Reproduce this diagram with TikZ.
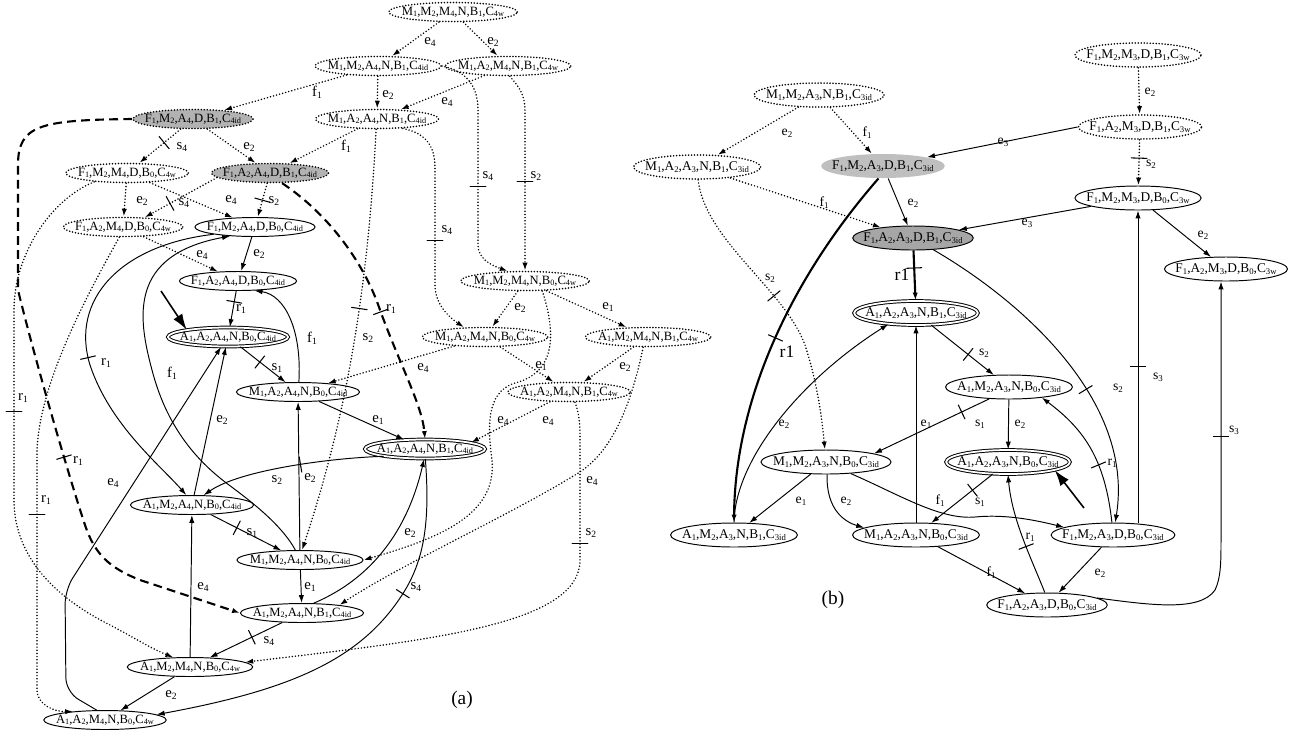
\documentclass[tikz,border=0pt]{standalone}
\usepackage{fontspec}
\setmainfont{Liberation Serif}
\usetikzlibrary{calc}
\usetikzlibrary{arrows.meta}
\usetikzlibrary{shapes.geometric}
\usetikzlibrary{decorations.markings}
\newcommand\sbs[1]{\raisebox{-0.3ex}{\scalebox{0.65}{#1}}}
\tikzset{
	>={Latex[length=4.5pt,width=3pt]},
	sta/.style={
		ellipse,
		draw, line width=0.55pt,
		inner xsep=-3.2pt, inner ysep=0pt,
		minimum height=0.38cm,
		font=\fontsize{7.2}{8}\selectfont},
	stb/.style={
		ellipse,
		draw, line width=0.55pt,
		inner xsep=-4pt, inner ysep=0pt,
		minimum height=0.48cm,
		font=\fontsize{7.6}{9}\selectfont},
	ghost/.style={draw, line cap=round, dash pattern=on 0pt off 1.7pt, line width=1pt},
	fault/.style={fill=gray!60},
	goal/.style={double, double distance=1pt},
	trans/.style={->, line width=0.55pt},
	transdot/.style={->, line width=0.95pt, line cap=round, dash pattern=on 0pt off 1.8pt},
	transdash/.style={->, line width=1.2pt, dash pattern=on 5pt off 3pt},
	transthick/.style={->, line width=1.2pt},
	initarr/.style={-{Latex[length=9pt,width=6pt]}, line width=0.9pt},
	lab/.style={font=\fontsize{8.4}{9}\selectfont, inner sep=0pt},
	labb/.style={font=\fontsize{7.8}{9}\selectfont, inner sep=0pt},
	labbig/.style={font=\fontsize{10}{11}\selectfont, inner sep=0pt},
	notch/.style={postaction={decorate,decoration={markings,
		mark=at position #1 with {\draw[solid,-,line width=0.6pt] (0,-4.5pt) -- (0,4.5pt);}}}},
}
\begin{document}
\begin{tikzpicture}[x=0.02cm, y=-0.02cm]
	\useasboundingbox (0,0) rectangle (1301,731);

	% (a) states
	\node[sta,ghost] (a1) at (453,12) {M\sbs1,M\sbs2,M\sbs4,N,B\sbs1,C\sbs{4w}};
	\node[sta,ghost] (a2) at (378,66) {M\sbs1,M\sbs2,A\sbs4,N,B\sbs1,C\sbs{4id}};
	\node[sta,ghost] (a3) at (508,66) {M\sbs1,A\sbs2,M\sbs4,N,B\sbs1,C\sbs{4w}};
	\node[sta,ghost,fault] (a4) at (193,119) {F\sbs1,M\sbs2,A\sbs4,D,B\sbs1,C\sbs{4id}};
	\node[sta,ghost] (a5) at (377,119) {M\sbs1,A\sbs2,A\sbs4,N,B\sbs1,C\sbs{4id}};
	\node[sta,ghost] (a6) at (127,173) {F\sbs1,M\sbs2,M\sbs4,D,B\sbs0,C\sbs{4w}};
	\node[sta,ghost,fault] (a7) at (270,173) {F\sbs1,A\sbs2,A\sbs4,D,B\sbs1,C\sbs{4id}};
	\node[sta,ghost] (a8) at (123,227) {F\sbs1,A\sbs2,M\sbs4,D,B\sbs0,C\sbs{4w}};
	\node[sta] (a9) at (255,227) {F\sbs1,M\sbs2,A\sbs4,D,B\sbs0,C\sbs{4id}};
	\node[sta] (a10) at (238,281) {F\sbs1,A\sbs2,A\sbs4,D,B\sbs0,C\sbs{4id}};
	\node[sta,goal] (a11) at (228,337) {A\sbs1,A\sbs2,A\sbs4,N,B\sbs0,C\sbs{4id}};
	\node[sta] (a12) at (298,392) {M\sbs1,A\sbs2,A\sbs4,N,B\sbs0,C\sbs{4id}};
	\node[sta,ghost] (a13) at (525,281) {M\sbs1,M\sbs2,M\sbs4,N,B\sbs0,C\sbs{4w}};
	\node[sta,ghost] (a14) at (485,337) {M\sbs1,A\sbs2,M\sbs4,N,B\sbs0,C\sbs{4w}};
	\node[sta,ghost] (a15) at (648,337) {A\sbs1,M\sbs2,M\sbs4,N,B\sbs1,C\sbs{4w}};
	\node[sta,ghost] (a16) at (569,392) {A\sbs1,A\sbs2,M\sbs4,N,B\sbs1,C\sbs{4w}};
	\node[sta,goal] (a17) at (425,449) {A\sbs1,A\sbs2,A\sbs4,N,B\sbs1,C\sbs{4id}};
	\node[sta] (a18) at (192,505) {A\sbs1,M\sbs2,A\sbs4,N,B\sbs0,C\sbs{4id}};
	\node[sta] (a19) at (300,560) {M\sbs1,M\sbs2,A\sbs4,N,B\sbs0,C\sbs{4id}};
	\node[sta] (a20) at (302,613) {A\sbs1,M\sbs2,A\sbs4,N,B\sbs1,C\sbs{4id}};
	\node[sta] (a21) at (190,667) {A\sbs1,M\sbs2,M\sbs4,N,B\sbs0,C\sbs{4w}};
	\node[sta] (a22) at (105,720) {A\sbs1,A\sbs2,M\sbs4,N,B\sbs0,C\sbs{4w}};
	\node[font=\fontsize{11}{12}\selectfont] (capa) at (462,700) {(a)};

	% (a) transitions
	\draw[transdot] (a1) -- (a2) node[lab] at (430,42) {e\sbs4};
	\draw[transdot] (a1) -- (a3) node[lab] at (493,42) {e\sbs2};
	\draw[transdot] (a2) -- (a4) node[lab] at (317,92) {f\sbs1};
	\draw[transdot] (a2) -- (a5) node[lab] at (388,95) {e\sbs2};
	\draw[transdot] (a3) -- (a5) node[lab] at (447,102) {e\sbs4};
	\draw[transdot,notch=0.4] (a4) -- (a6) node[lab] at (182,147) {s\sbs4};
	\draw[transdot] (a4) -- (a7) node[lab] at (249,147) {e\sbs2};
	\draw[transdot] (a5) -- (a7) node[lab] at (346,146) {f\sbs1};
	\draw[transdot] (a6) -- (a8) node[lab] at (142,201) {e\sbs2};
	\draw[transdot,notch=0.65] (a7.185) -- (a8.24) node[lab] at (184,203) {s\sbs4};
	\draw[transdot] (a6) -- (a9) node[lab] at (231,200) {e\sbs4};
	\draw[transdot,notch=0.5] (a7) -- (a9) node[lab] at (274,201) {s\sbs2};
	\draw[transdot] (a8) -- (a10) node[lab] at (202,255) {e\sbs4};
	\draw[transdot,notch=0.58] (a2.east) .. controls (462,70) and (478,82) .. (478,110) -- (478,245)
		.. controls (478,258) and (490,265) .. (a13.150) node[lab] at (488,176) {s\sbs4};
	\draw[transdot,notch=0.55] (a3.-80) .. controls (520,88) and (525,95) .. (525,112) -- (a13.north)
		node[lab] at (536,176) {s\sbs2};
	\draw[transdot,notch=0.57] (a5.-20) .. controls (425,133) and (435,145) .. (435,168) -- (435,285)
		.. controls (435,305) and (450,318) .. (a14.155) node[lab] at (447,230) {s\sbs4};
	\draw[transdot,notch=0.42] (a5.265) .. controls (366,330) and (335,450) .. (a19.78)
		node[lab] at (368,338) {s\sbs2};
	\draw[transdot] (a13) -- (a14) node[lab] at (520,308) {e\sbs2};
	\draw[transdot] (a13) -- (a15) node[lab] at (608,307) {e\sbs1};
	\draw[transdot] (a14) -- (a16) node[lab] at (541,366) {e\sbs1};
	\draw[transdot] (a15) -- (a16) node[lab] at (625,367) {e\sbs2};
	\draw[transdot] (a16) -- (a17.8) node[lab] at (548,421) {e\sbs4};
	\draw[transdot] (a14) -- (a12) node[lab] at (423,368) {e\sbs4};
	\draw[transdot] (a13.-30) .. controls (555,330) and (558,372) .. (515,383)
		.. controls (485,392) and (488,430) .. (492,460)
		.. controls (497,515) and (440,538) .. (a19.east) node[lab] at (503,421) {e\sbs4};
	\draw[transdot] (a15.-115) .. controls (630,410) and (610,455) .. (575,475)
		.. controls (510,515) and (400,565) .. (a20.12) node[lab] at (592,481) {e\sbs4};
	\draw[transdot,notch=0.27] (a16.-60) .. controls (578,410) and (580,420) .. (580,435) -- (580,560)
		.. controls (580,625) and (430,640) .. (a21.5) node[lab] at (591,533) {s\sbs2};
	\draw[transdot,notch=0.445] (a6.195) .. controls (50,200) and (14,255) .. (14,310) -- (14,500)
		.. controls (14,560) and (60,600) .. (110,625)
		.. controls (135,638) and (150,648) .. (a21.150) node[lab] at (23,398) {r\sbs1};
	\draw[transdot,notch=0.57] (a8.-110) .. controls (90,290) and (40,380) .. (37,450) -- (37,690)
		.. controls (37,705) and (55,712) .. (a22.165) node[lab] at (46,500) {r\sbs1};
	\draw[transdash,notch=0.63] (a4.west) .. controls (40,120) and (18,125) .. (18,165) -- (18,290)
		.. controls (35,360) and (70,480) .. (85,525)
		.. controls (95,555) and (110,568) .. (140,580) -- (a20.west) node[lab] at (78,461) {r\sbs1};
	\draw[transdash,notch=0.55] (a7.-40) .. controls (330,215) and (365,265) .. (380,310)
		.. controls (400,365) and (422,405) .. (a17.north) node[lab] at (391,309) {r\sbs1};
	\draw[trans] (a9) -- (a10) node[lab] at (259,254) {e\sbs2};
	\draw[trans,notch=0.3] (a10) -- (a11) node[lab] at (241,309) {r\sbs1};
	\draw[trans,notch=0.43] (a11) -- (a12) node[lab] at (277,368) {s\sbs1};
	\draw[trans] (a12.85) .. controls (302,330) and (285,295) .. (a10.-30) node[lab] at (312,338) {f\sbs1};
	\draw[trans] (a12) -- (a17) node[lab] at (378,420) {e\sbs1};
	\draw[trans,notch=0.45] (a17.190) .. controls (330,458) and (240,470) .. (a18.40)
		node[lab] at (277,480) {s\sbs2};
	\draw[trans,notch=0.37] (a18) -- (a19) node[lab] at (252,533) {s\sbs1};
	\draw[trans] (a19) -- (a20) node[lab] at (310,587) {e\sbs1};
	\draw[trans,notch=0.42] (a20) -- (a21) node[lab] at (269,641) {s\sbs4};
	\draw[trans] (a21) -- (a22) node[lab] at (171,695) {e\sbs2};
	\draw[trans] (a21) -- (a18) node[lab] at (203,587) {e\sbs4};
	\draw[trans] (a19) -- (a12) node[lab] at (310,478) {e\sbs2};
	\draw[trans] (a18) -- (a11) node[lab] at (222,420) {e\sbs2};
	\draw[trans] (a20.40) .. controls (380,575) and (410,520) .. (a17.265) node[lab] at (410,533) {e\sbs2};
	\draw[trans,notch=0.33] (a17.-88) .. controls (430,520) and (425,560) .. (402,595)
		.. controls (360,660) and (290,690) .. (a22.6) node[lab] at (416,587) {s\sbs4};
	\draw[trans,rounded corners=8pt] (a22.130) -- (66,692) -- (65,590) -- (a11.-125)
		node[lab] at (113,483) {e\sbs4};
	\draw[trans,notch=0.54] (a9.190) .. controls (120,245) and (70,300) .. (90,365)
		.. controls (110,425) and (160,465) .. (a18.120) node[lab] at (106,363) {r\sbs1};
	\draw[trans] (a19.115) .. controls (280,522) and (245,497) .. (225,482)
		.. controls (190,455) and (165,420) .. (152,370)
		.. controls (138,318) and (128,255) .. (a9.200) node[lab] at (172,373) {f\sbs1};
	\coordinate (ainit) at (161,291);
	\draw[initarr] (ainit) -- (a11.170);

	% (b) states
	\node[stb,ghost] (b1) at (1138,55) {F\sbs1,M\sbs2,M\sbs3,D,B\sbs1,C\sbs{3w}};
	\node[stb,ghost] (b2) at (819,95) {M\sbs1,M\sbs2,A\sbs3,N,B\sbs1,C\sbs{3id}};
	\node[stb,ghost] (b3) at (1140,127) {F\sbs1,A\sbs2,M\sbs3,D,B\sbs1,C\sbs{3w}};
	\node[stb,draw=none,fill=gray!50] (b4) at (883,166) {F\sbs1,M\sbs2,A\sbs3,D,B\sbs1,C\sbs{3id}};
	\node[stb,ghost] (b5) at (697,167) {M\sbs1,A\sbs2,A\sbs3,N,B\sbs1,C\sbs{3id}};
	\node[stb] (b6) at (1138,198) {F\sbs1,M\sbs2,M\sbs3,D,B\sbs0,C\sbs{3w}};
	\node[stb,fill=gray!70] (b7) at (913,238) {F\sbs1,A\sbs2,A\sbs3,D,B\sbs1,C\sbs{3id}};
	\node[stb] (b8) at (1226,269) {F\sbs1,A\sbs2,M\sbs3,D,B\sbs0,C\sbs{3w}};
	\node[stb,goal] (b9) at (916,313) {A\sbs1,A\sbs2,A\sbs3,N,B\sbs1,C\sbs{3id}};
	\node[stb] (b10) at (1009,387) {A\sbs1,M\sbs2,A\sbs3,N,B\sbs0,C\sbs{3id}};
	\node[stb] (b11) at (826,462) {M\sbs1,M\sbs2,A\sbs3,N,B\sbs0,C\sbs{3id}};
	\node[stb,goal] (b12) at (1008,462) {A\sbs1,A\sbs2,A\sbs3,N,B\sbs0,C\sbs{3id}};
	\node[stb] (b13) at (734,535) {A\sbs1,M\sbs2,A\sbs3,N,B\sbs1,C\sbs{3id}};
	\node[stb] (b14) at (916,535) {M\sbs1,A\sbs2,A\sbs3,N,B\sbs0,C\sbs{3id}};
	\node[stb] (b15) at (1113,535) {F\sbs1,M\sbs2,A\sbs3,D,B\sbs0,C\sbs{3id}};
	\node[stb] (b16) at (1047,605) {F\sbs1,A\sbs2,A\sbs3,D,B\sbs0,C\sbs{3id}};
	\node[font=\fontsize{11}{12}\selectfont] (capb) at (833,600) {(b)};

	% (b) transitions
	\draw[transdot] (b1) -- (b3) node[labb] at (1150,92) {e\sbs2};
	\draw[transdot] (b2) -- (b5) node[labb] at (787,133) {e\sbs2};
	\draw[transdot] (b2) -- (b4) node[labb] at (867,133) {f\sbs1};
	\draw[trans] (b3.west) -- (b4) node[labb] at (1003,142) {e\sbs3};
	\draw[transdot,notch=0.4] (b3) -- (b6) node[labb] at (1151,164) {s\sbs2};
	\draw[transdot] (b5) -- (b7) node[labb] at (824,203) {f\sbs1};
	\draw[trans] (b4) -- (b7) node[labb] at (913,203) {e\sbs2};
	\draw[trans] (b6) -- (b7) node[labb] at (1027,223) {e\sbs3};
	\draw[trans] (b6) -- (b8) node[labb] at (1203,235) {e\sbs2};
	\draw[transthick,notch=0.5] (b4.250) .. controls (790,280) and (735,400) .. (b13.north)
		node[labbig] at (787,352) {r1};
	\draw[transthick,notch=0.35] (b7) -- (b9) node[labbig] at (902,275) {r1};
	\draw[trans,notch=0.6] (b7.-30) .. controls (1020,300) and (1135,400) .. (b15.80)
		node[labb] at (1118,388) {s\sbs2};
	\draw[trans,notch=0.59] (b9) -- (b10) node[labb] at (984,353) {s\sbs2};
	\draw[trans,notch=0.24] (b10.211) -- (b11.10) node[labb] at (980,424) {s\sbs1};
	\draw[trans] (b10) -- (b12) node[labb] at (1020,424) {e\sbs2};
	\draw[trans] (b11) -- (b13) node[labb] at (801,501) {e\sbs1};
	\draw[trans] (b11.-85) .. controls (826,510) and (845,522) .. (b14.172) node[labb] at (846,501) {e\sbs2};
	\draw[trans] (b11.-25) .. controls (900,495) and (940,520) .. (975,517)
		.. controls (1005,514) and (1035,520) .. (b15.171) node[labb] at (940,501) {f\sbs1};
	\draw[trans,notch=0.33] (b12) -- (b14) node[labb] at (980,502) {s\sbs1};
	\draw[trans] (b14) -- (b9) node[labb] at (926,424) {e\sbs1};
	\draw[trans] (b13.north) .. controls (735,460) and (800,380) .. (b9.202) node[labb] at (784,424) {e\sbs2};
	\draw[transdot,notch=0.46] (b5.-85) .. controls (705,240) and (785,290) .. (805,345)
		.. controls (818,385) and (822,420) .. (b11.95) node[labb] at (770,278) {s\sbs2};
	\draw[trans] (b14) -- (b16) node[labb] at (991,573) {f\sbs1};
	\draw[trans] (b15) -- (b16) node[labb] at (1100,573) {e\sbs2};
	\draw[trans,notch=0.4] (b16.100) .. controls (1032,560) and (1012,520) .. (b12.south)
		node[labb] at (1030,537) {r\sbs1};
	\draw[trans,notch=0.4] (b15.95) .. controls (1105,460) and (1085,430) .. (b10.-18)
		node[labb] at (1112,463) {r\sbs1};
	\draw[trans,notch=0.5] (b15.north -| b6.south) -- (b6.south) node[labb] at (1158,377) {s\sbs3};
	\draw[trans,notch=0.64] (b16.8) .. controls (1150,605) and (1200,612) .. (1215,590)
		.. controls (1221,578) and (1221,560) .. (1221,540) -- ($(b8.south)+(-5,0)$)
		node[labb] at (1234,430) {s\sbs3};
	\coordinate (binit) at (1084,508);
	\draw[initarr] (binit) -- (b12.-10);
\end{tikzpicture}
\end{document}
